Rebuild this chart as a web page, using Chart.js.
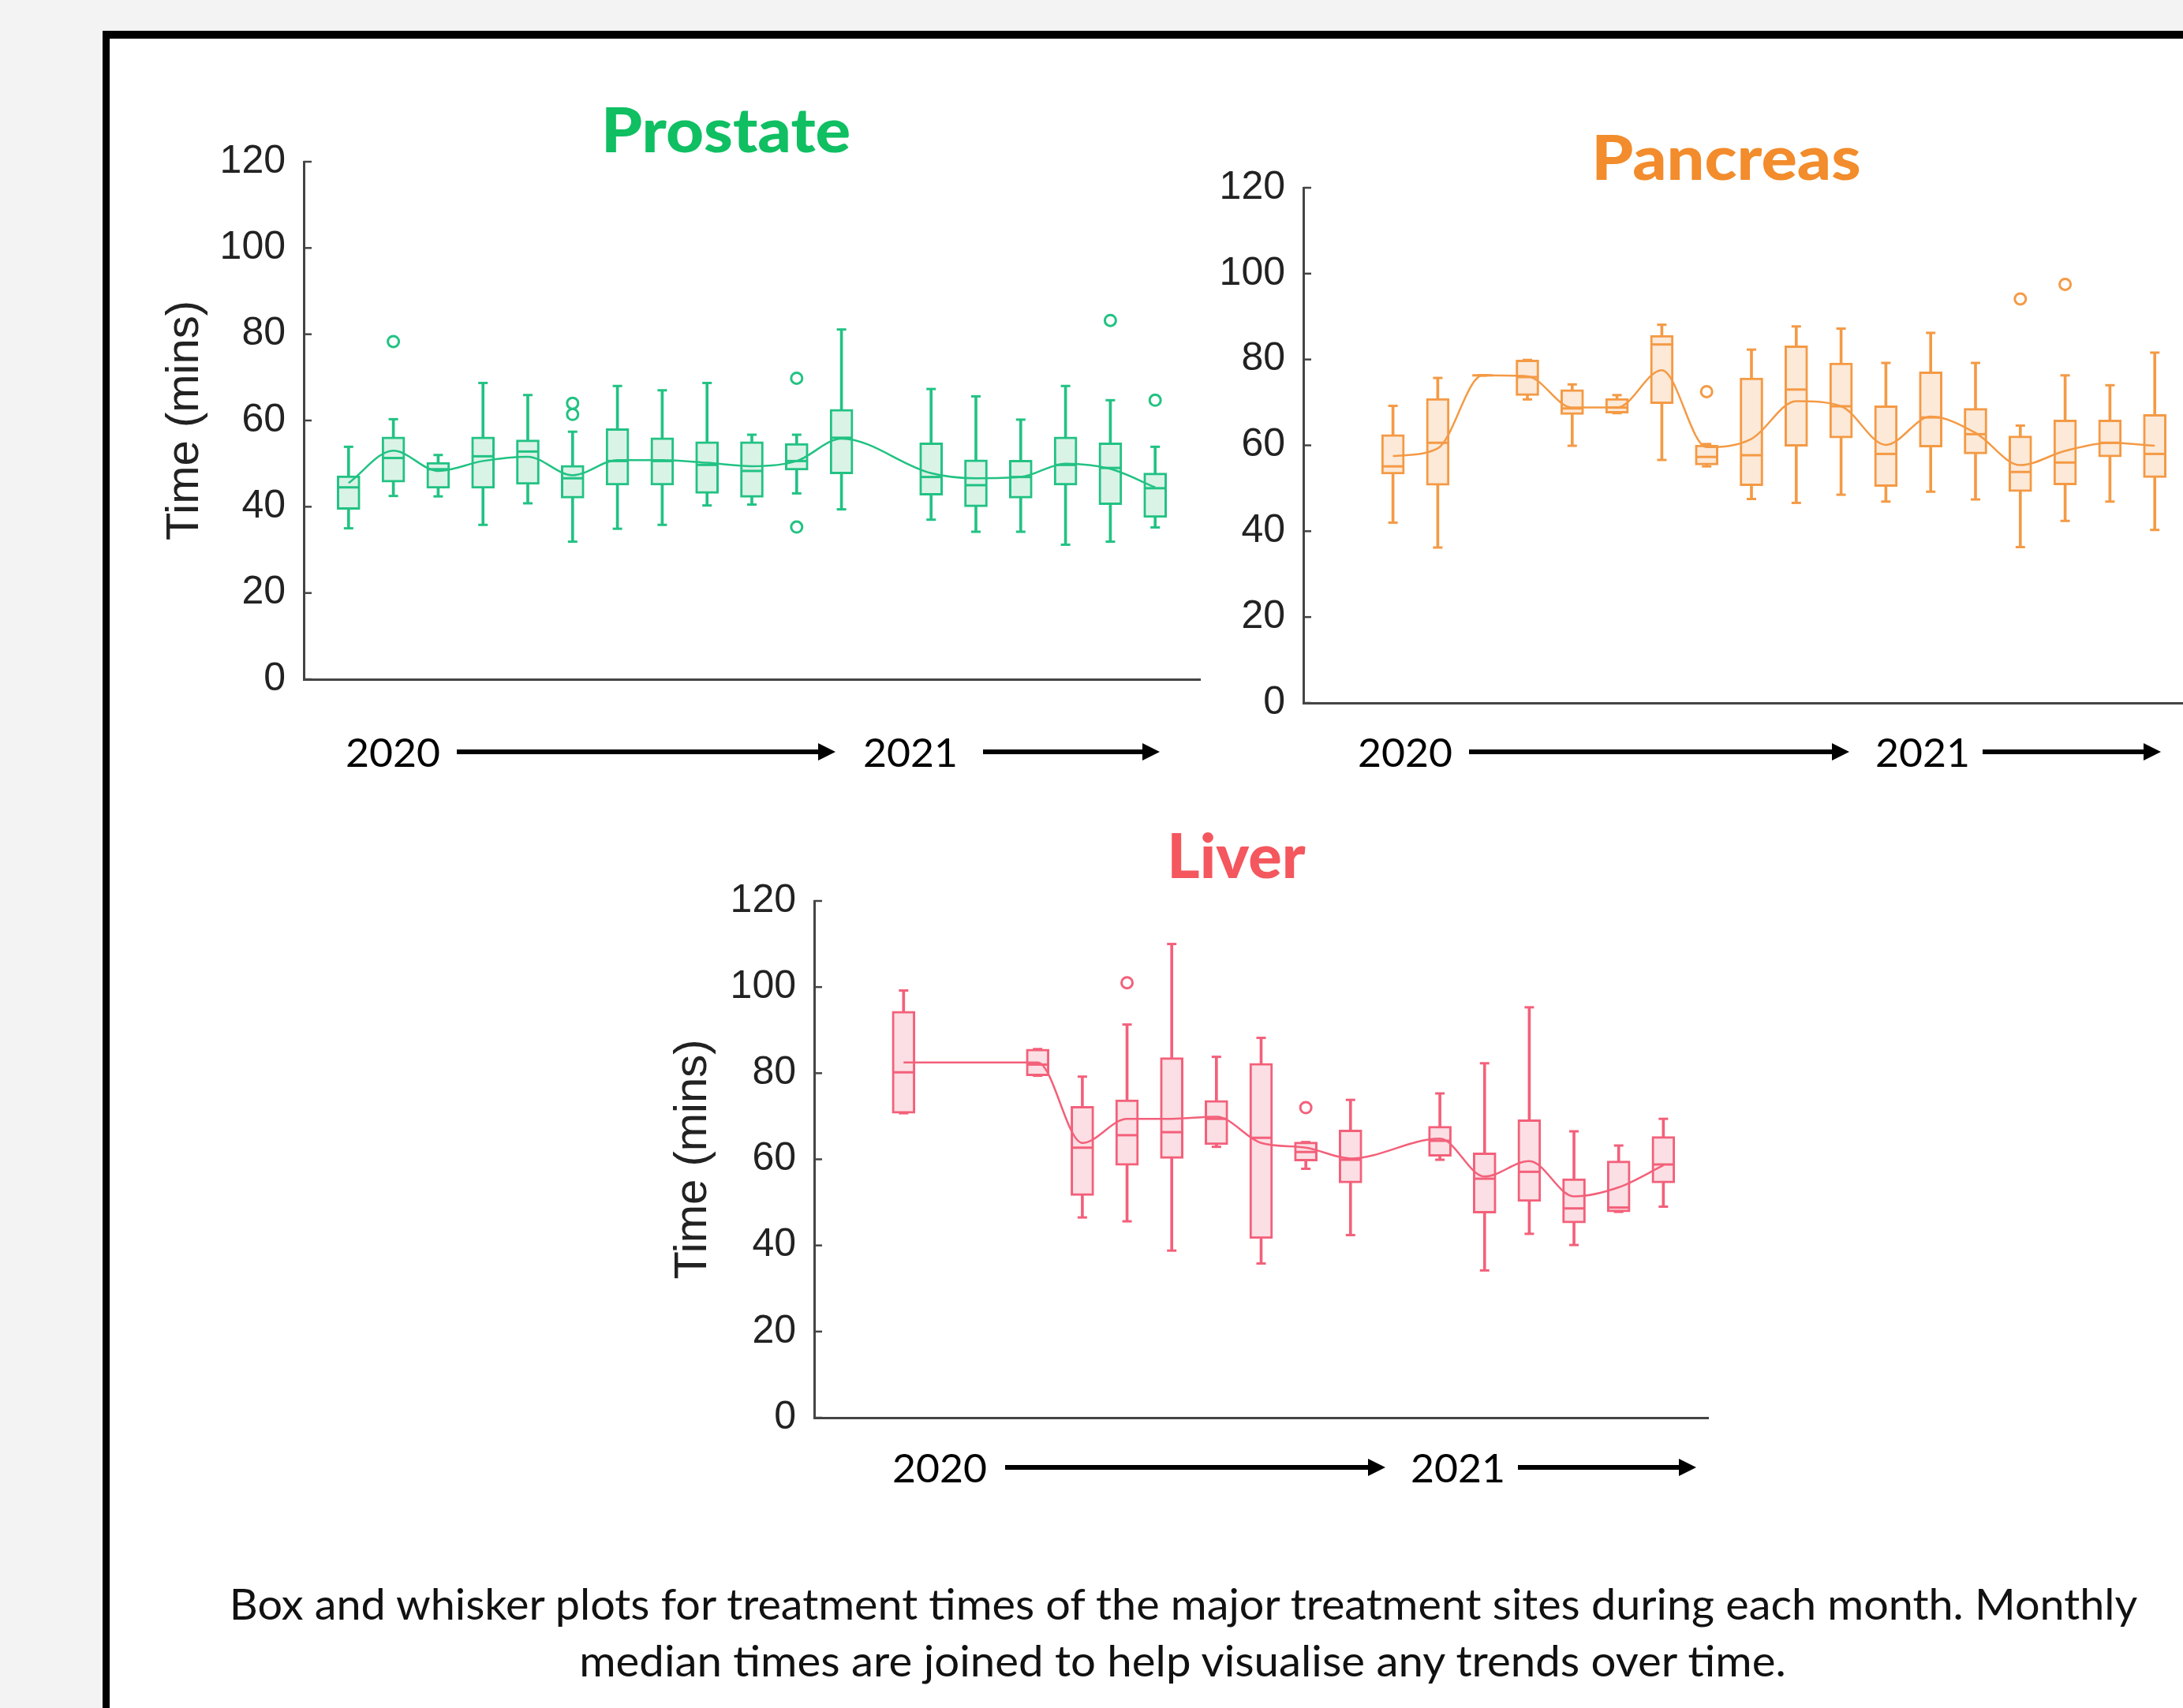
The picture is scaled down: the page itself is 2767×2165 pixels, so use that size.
<!DOCTYPE html>
<html lang="en">
<head>
<meta charset="UTF-8" />
<title>Treatment times by month</title>
<script src="https://cdn.jsdelivr.net/npm/chart.js"></script>
<style>
  html, body { margin: 0; padding: 0; width: 2767px; height: 2165px; overflow: hidden; background: #f3f3f3; }
  #frame { position: absolute; left: 130px; top: 39px; width: 3000px; height: 3000px; background: #fff;
           border-left: 9px solid #000; border-top: 10px solid #000; }
  canvas { position: absolute; }
  .txt { position: absolute; white-space: nowrap; line-height: 1; transform: translate(-50%, -50%); }
  .title { font-family: Lato, "Open Sans", sans-serif; font-weight: 900; font-size: 78px; }
  .year { font-family: Lato, sans-serif; font-size: 50px; color: #000; }
  .cap { font-family: Lato, sans-serif; font-size: 54px; color: #111; }
  .arrow { position: absolute; height: 6px; background: #000; }
  .arrow::after { content: ""; position: absolute; right: -20px; top: -8px; border-left: 22px solid #000;
                  border-top: 11px solid transparent; border-bottom: 11px solid transparent; }
</style>
</head>
<body>
<div id="frame"></div>

<canvas id="prostate" width="1368" height="696"></canvas>
<canvas id="pancreas" width="1278" height="693"></canvas>
<canvas id="liver" width="1365" height="695"></canvas>

<div class="txt title" data-w="316" style="left:920px; top:163px; color:#0fbf62">Prostate</div>
<div class="txt title" data-w="341" style="left:2188px; top:198px; color:#f28c2c">Pancreas</div>
<div class="txt title" data-w="176" style="left:1567px; top:1083px; color:#f4575e">Liver</div>

<div class="txt year" data-w="120" style="left:498px; top:953px">2020</div>
<div class="txt year" data-w="120" style="left:1154px; top:953px">2021</div>
<div class="txt year" data-w="120" style="left:1781px; top:953px">2020</div>
<div class="txt year" data-w="120" style="left:2437px; top:953px">2021</div>
<div class="txt year" data-w="120" style="left:1191px; top:1860px">2020</div>
<div class="txt year" data-w="120" style="left:1848px; top:1860px">2021</div>

<div class="txt cap" data-w="2418" style="left:1500px; top:2033px">Box and whisker plots for treatment times of the major treatment sites during each month. Monthly</div>
<div class="txt cap" data-w="1530" style="left:1499px; top:2105px">median times are joined to help visualise any trends over time.</div>

<script>
  // month slots (first and last are empty padding slots)
  const months = ["", "Jan 20", "Feb 20", "Mar 20", "Apr 20", "May 20", "Jun 20", "Jul 20", "Aug 20",
    "Sep 20", "Oct 20", "Nov 20", "Dec 20", "Jan 21", "Feb 21", "Mar 21", "Apr 21", "May 21",
    "Jun 21", "Jul 21", " "];
  const yTicks = [0, 20, 40, 60, 80, 100, 120];

  // Prostate
  const prostateMin = [null, 35.0, 42.5, 42.4, 35.8, 40.8, 31.9, 34.9, 35.8, 40.3, 40.5, 43.1, 39.4, null, 37.0, 34.2, 34.2, 31.2, 31.9, 35.2, null];
  const prostateQ1 = [null, 39.4, 45.7, 44.3, 44.3, 45.2, 42.0, 45.0, 45.0, 43.1, 42.2, 48.5, 47.6, null, 42.7, 40.0, 42.0, 45.0, 40.5, 37.5, null];
  const prostateMed = [null, 44.5, 51.3, 48.7, 51.7, 52.8, 46.6, 50.6, 50.6, 49.7, 48.3, 50.6, 56.0, null, 46.9, 45.0, 46.9, 49.7, 49.0, 44.3, null];
  const prostateQ3 = [null, 47.2, 56.2, 50.3, 56.2, 55.5, 49.6, 58.1, 56.0, 55.1, 55.1, 54.7, 62.6, null, 54.8, 50.9, 50.8, 56.2, 54.8, 47.8, null];
  const prostateMax = [null, 53.9, 60.3, 52.0, 68.7, 65.9, 57.4, 68.0, 67.0, 68.7, 56.7, 56.7, 81.1, null, 67.3, 65.6, 60.2, 68.0, 64.7, 53.9, null];
  const prostateTrend = [null, 45.5, 53.0, 48.3, 50.6, 51.6, 47.3, 50.8, 50.8, 50.2, 49.4, 50.6, 55.8, null, 47.8, 46.6, 46.9, 50.0, 48.8, 44.5, null];
  const prostateOut1 = [null, null, 78.3, null, null, null, 64.0, null, null, null, null, 69.8, null, null, null, null, null, null, 83.2, 64.7, null];
  const prostateOut2 = [null, null, null, null, null, null, 61.4, null, null, null, null, 35.3, null, null, null, null, null, null, null, null, null];

  // Pancreas
  const pancreasMin = [null, null, 42.0, 36.2, 76.3, 70.7, 59.9, 67.5, 56.6, 55.1, 47.5, 46.6, 48.5, 46.9, 49.2, 47.4, 36.3, 42.4, 46.9, 40.3, null];
  const pancreasQ1 = [null, null, 53.3, 50.7, 76.3, 71.6, 67.2, 67.5, 69.7, 55.4, 50.6, 59.8, 61.7, 50.4, 59.6, 58.0, 49.2, 50.8, 57.3, 52.5, null];
  const pancreasMed = [null, null, 55.1, 60.6, 76.3, 75.9, 68.6, 68.8, 83.5, 57.3, 57.7, 73.0, 69.1, 58.0, 66.5, 62.6, 53.8, 56.0, 60.6, 58.0, null];
  const pancreasQ3 = [null, null, 62.5, 70.9, 76.3, 79.9, 73.0, 70.9, 85.6, 60.1, 75.7, 83.2, 79.2, 69.2, 77.1, 68.6, 62.2, 65.9, 65.9, 67.2, null];
  const pancreasMax = [null, null, 69.2, 75.7, 76.3, 79.9, 74.2, 71.7, 88.1, 60.3, 82.3, 87.7, 87.2, 79.2, 86.2, 79.2, 64.6, 76.3, 74.0, 81.6, null];
  const pancreasTrend = [null, null, 57.5, 59.3, 76.3, 76.1, 68.8, 68.8, 77.5, 59.6, 61.5, 70.3, 69.1, 60.1, 66.7, 62.9, 55.4, 58.7, 60.6, 59.9, null];
  const pancreasOut1 = [null, null, null, null, null, null, null, null, null, 72.5, null, null, null, null, null, null, 94.1, 97.5, null, null, null];

  // Liver
  const liverMin = [null, null, 70.7, null, null, 79.4, 46.5, 45.6, 38.8, 62.9, 35.8, 57.8, 42.4, null, 59.9, 34.2, 42.7, 40.1, 47.8, 49.0, null];
  const liverQ1 = [null, null, 70.7, null, null, 79.4, 51.6, 58.6, 60.2, 63.4, 41.6, 59.6, 54.5, null, 60.7, 47.5, 50.2, 45.2, 47.8, 54.5, null];
  const liverMed = [null, null, 80.2, null, null, 82.0, 62.7, 65.6, 66.3, 69.4, 65.0, 61.7, 59.9, null, 64.3, 55.5, 57.1, 48.6, 48.8, 58.8, null];
  const liverQ3 = [null, null, 94.4, null, null, 85.6, 72.3, 73.8, 83.6, 73.7, 82.3, 64.0, 66.8, null, 67.7, 61.5, 69.2, 55.5, 59.6, 65.3, null];
  const liverMax = [null, null, 99.2, null, null, 85.6, 79.2, 91.3, 110.0, 83.8, 88.2, 64.0, 73.8, null, 75.3, 82.3, 95.3, 66.5, 63.2, 69.4, null];
  const liverTrend = [null, null, 82.5, null, null, 82.5, 63.8, 69.4, 69.4, 69.9, 63.8, 62.7, 60.2, null, 64.8, 56.0, 59.6, 51.4, 53.5, 58.6, null];
  const liverOut1 = [null, null, null, null, null, null, null, 101.0, null, null, null, 72.0, null, null, null, null, null, null, null, null, null];

  // small inward tick marks on the y axis
  const inTicks = {
    id: "inTicks",
    afterDraw(chart) {
      const { ctx, chartArea, scales } = chart;
      ctx.save();
      ctx.strokeStyle = "#444";
      ctx.lineWidth = 2.5;
      scales.y.ticks.forEach((t) => {
        const py = scales.y.getPixelForValue(t.value);
        ctx.beginPath();
        ctx.moveTo(chartArea.left, py);
        ctx.lineTo(chartArea.left + 10, py);
        ctx.stroke();
      });
      ctx.restore();
    },
  };

  function boxChart(id, d) {
    const pair = (a, b) => a.map((v, i) => (v == null ? null : [v, b[i]]));
    const pts = { type: "line", showLine: false, pointBorderColor: d.stroke };
    const canvas = document.getElementById(id);
    const chart = new Chart(canvas, {
      type: "bar",
      data: {
        labels: months,
        datasets: [
          { data: pair(d.min, d.max), backgroundColor: d.stroke, barThickness: 3, grouped: false, order: 7 },
          { ...pts, data: d.min, pointStyle: "line", pointRadius: 6, pointBorderWidth: 3, order: 6 },
          { ...pts, data: d.max, pointStyle: "line", pointRadius: 6, pointBorderWidth: 3, order: 6 },
          { data: pair(d.q1, d.q3), backgroundColor: d.fill, borderColor: d.stroke, borderWidth: 3,
            borderSkipped: false, barThickness: 29, grouped: false, order: 5 },
          { ...pts, data: d.med, pointStyle: "line", pointRadius: 13, pointBorderWidth: 3, order: 4 },
          { type: "line", data: d.trend, borderColor: d.stroke, borderWidth: 2.5, pointRadius: 0,
            spanGaps: true, cubicInterpolationMode: "monotone", order: 3 },
          ...d.outliers.map((o) => ({ ...pts, data: o, pointStyle: "circle", pointRadius: 7,
            pointBorderWidth: 3, pointBackgroundColor: "#fff", order: 2 })),
        ],
      },
      options: {
        responsive: false,
        maintainAspectRatio: false,
        animation: false,
        events: [],
        layout: { padding: { top: 30, right: 12, bottom: 10, left: 0 } },
        plugins: { legend: { display: false }, tooltip: { enabled: false } },
        scales: {
          x: {
            offset: false,
            grid: { display: false, drawTicks: false },
            ticks: { display: false },
            border: { color: "#444", width: 3 },
            afterFit: (s) => { s.height = 0; },
          },
          y: {
            min: 0,
            max: 120,
            afterBuildTicks: (s) => { s.ticks = yTicks.map((v) => ({ value: v })); },
            grid: { display: false, drawTicks: false },
            border: { color: "#444", width: 3 },
            ticks: { padding: 23, color: "#222", font: { family: "Liberation Sans", size: 50 } },
            title: {
              display: d.yTitle != null,
              text: "Time (mins)",
              color: "#222",
              font: { family: "Liberation Sans", size: 58, lineHeight: 1 },
              padding: { top: d.yTitle || 0, bottom: 0 },
            },
            afterFit: (s) => { s.width = d.yWidth; },
          },
        },
      },
      plugins: [inTicks],
    });
    // size the canvas so the plot area lands on the axes of the picture
    const a = chart.chartArea;
    chart.resize(chart.width + d.plotW - (a.right - a.left), chart.height + d.plotH - (a.bottom - a.top));
    const b = chart.chartArea;
    canvas.style.left = d.axisX - b.left + "px";
    canvas.style.top = d.axisTop - b.top + "px";
  }

  boxChart("prostate", {
    min: prostateMin, q1: prostateQ1, med: prostateMed, q3: prostateQ3, max: prostateMax,
    trend: prostateTrend, outliers: [prostateOut1, prostateOut2],
    stroke: "#22c283", fill: "#daf3e7", yWidth: 220, yTitle: 41,
    axisX: 385, axisTop: 205, plotW: 1136, plotH: 656,
  });
  boxChart("pancreas", {
    min: pancreasMin, q1: pancreasQ1, med: pancreasMed, q3: pancreasQ3, max: pancreasMax,
    trend: pancreasTrend, outliers: [pancreasOut1],
    stroke: "#f49a45", fill: "#fce9d8", yWidth: 130, yTitle: null,
    axisX: 1652, axisTop: 238, plotW: 1136, plotH: 653,
  });
  boxChart("liver", {
    min: liverMin, q1: liverQ1, med: liverMed, q3: liverQ3, max: liverMax,
    trend: liverTrend, outliers: [liverOut1],
    stroke: "#f3607a", fill: "#fbdfe4", yWidth: 220, yTitle: 38,
    axisX: 1032, axisTop: 1142, plotW: 1133, plotH: 655,
  });

  // year arrows
  function arrow(x1, x2, y) {
    const a = document.createElement("div");
    a.className = "arrow";
    a.style.left = x1 + "px";
    a.style.width = x2 - x1 - 20 + "px";
    a.style.top = y - 3 + "px";
    document.body.appendChild(a);
  }
  arrow(579, 1059, 953); arrow(1246, 1470, 953);
  arrow(1862, 2344, 953); arrow(2513, 2739, 953);
  arrow(1274, 1756, 1860); arrow(1924, 2150, 1860);

  // stretch text to the widths measured in the picture
  document.querySelectorAll("[data-w]").forEach((el) => {
    const k = +el.dataset.w / el.offsetWidth;
    el.style.transform = "translate(-50%, -50%) scaleX(" + k.toFixed(3) + ")";
  });
</script>
</body>
</html>
